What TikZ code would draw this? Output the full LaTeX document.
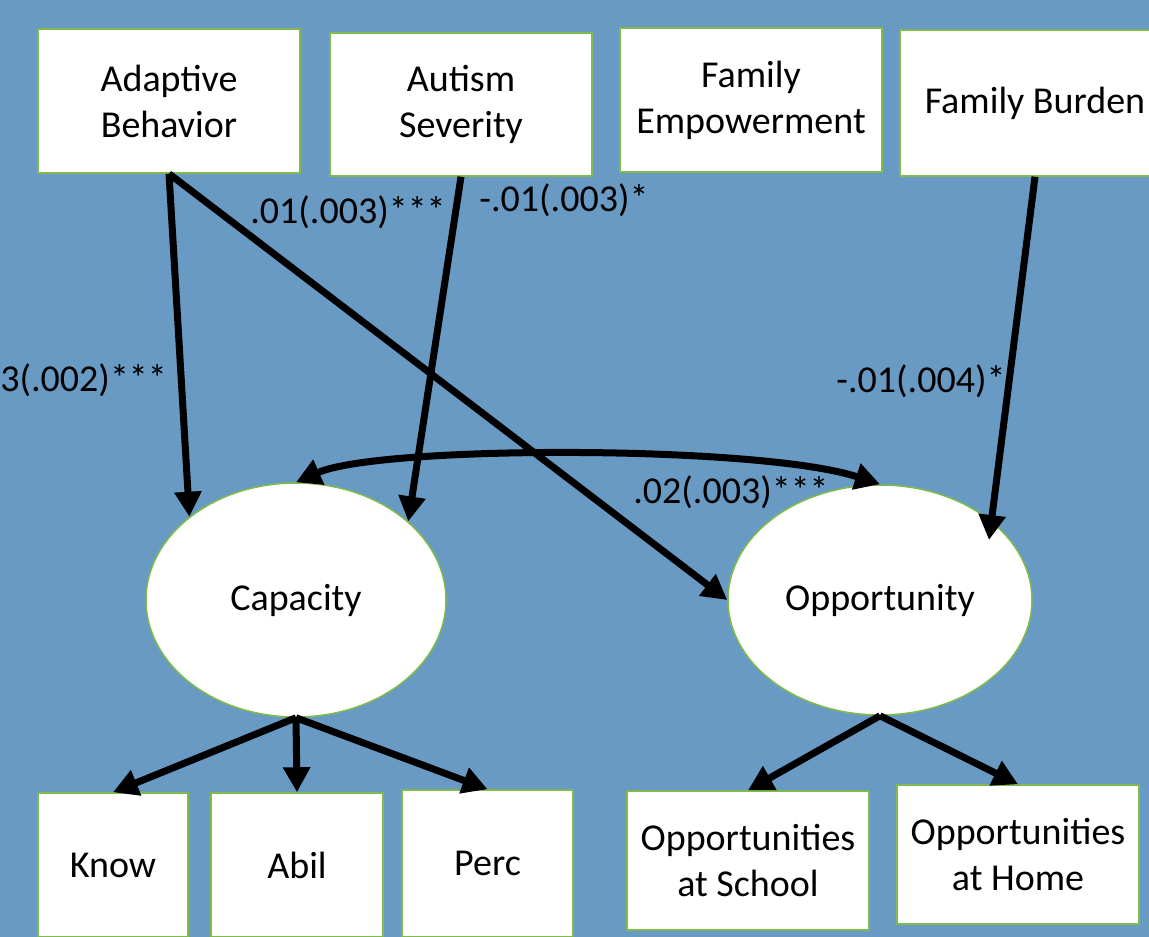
\documentclass[tikz,border=0pt]{standalone}
\usepackage{fontspec}
\setmainfont{Carlito}
\usetikzlibrary{arrows.meta,shapes.geometric}
\definecolor{bgblue}{RGB}{104,154,196}
\definecolor{edgegreen}{RGB}{128,186,76}
\tikzset{
  boxnode/.style={draw=edgegreen,line width=1.5pt,fill=white,rectangle,inner sep=0pt,align=center,font=\fontsize{38}{46}\selectfont},
  latent/.style={draw=edgegreen,line width=1.5pt,fill=white,ellipse,inner sep=0pt,font=\fontsize{38}{46}\selectfont},
  pathlabel/.style={inner sep=0pt,font=\fontsize{38}{46}\selectfont},
  arrowline/.style={line width=7pt,-{Triangle[length=25pt,width=26pt]}},
  biarrow/.style={line width=7pt,{Triangle[length=25pt,width=26pt]}-{Triangle[length=25pt,width=26pt]}}
}
\begin{document}
\begin{tikzpicture}[x=1pt,y=-1pt]
\useasboundingbox (0,0) rectangle (1149,937);
\clip (0,0) rectangle (1149,937);
\fill[bgblue] (0,0) rectangle (1149,937);
% top boxes
\node[boxnode,minimum width=262pt,minimum height=144pt] (ab) at (169,101) {Adaptive\\Behavior};
\node[boxnode,minimum width=262pt,minimum height=143pt] (as) at (461,104.5) {Autism\\Severity};
\node[boxnode,minimum width=262pt,minimum height=144pt] (fe) at (751,100) {Family\\Empowerment};
\node[boxnode,minimum width=270pt,minimum height=146pt] (fb) at (1035,103) {Family Burden};
% latent variables
\node[latent,minimum width=300pt,minimum height=234pt] (cap) at (296,600) {Capacity};
\node[latent,minimum width=304pt,minimum height=230pt] (opp) at (880,600) {Opportunity};
% indicator boxes
\node[boxnode,minimum width=150pt,minimum height=144pt] (know) at (113,865) {Know};
\node[boxnode,minimum width=172pt,minimum height=144pt] (abil) at (297,865) {Abil};
\node[boxnode,minimum width=171pt,minimum height=147pt] (perc) at (487.5,863.5) {Perc};
\node[boxnode,minimum width=242pt,minimum height=139pt] (school) at (748,860.5) {Opportunities\\at School};
\node[boxnode,minimum width=242pt,minimum height=139pt] (home) at (1018,854.5) {Opportunities\\at Home};
% connectors
\coordinate (fbtip) at (989,540);
\draw[arrowline] (ab.south) -- (cap.142);
\draw[arrowline] (ab.south) -- (opp.west);
\draw[arrowline] (as.south) -- (cap.35);
\draw[arrowline] (fb.south) -- (fbtip);
\draw[biarrow] (cap.north) .. controls (380,445) and (760,445) .. (opp.north);
\draw[arrowline] (cap.south) -- (know.north);
\draw[arrowline] (cap.south) -- (abil.north);
\draw[arrowline] (cap.south) -- (perc.north);
\draw[arrowline] (opp.south) -- (school.north);
\draw[arrowline] (opp.south) -- (home.north);
% labels
\node[pathlabel,anchor=east] (l1) at (167,380) {.03(.002)***};
\node[pathlabel] (l2) at (348,212) {.01(.003)***};
\node[pathlabel] (l3) at (564,200) {-.01(.003)*};
\node[pathlabel] (l4) at (921,381) {-.01(.004)*};
\node[pathlabel] (l5) at (731,492) {.02(.003)***};
\end{tikzpicture}
\end{document}
